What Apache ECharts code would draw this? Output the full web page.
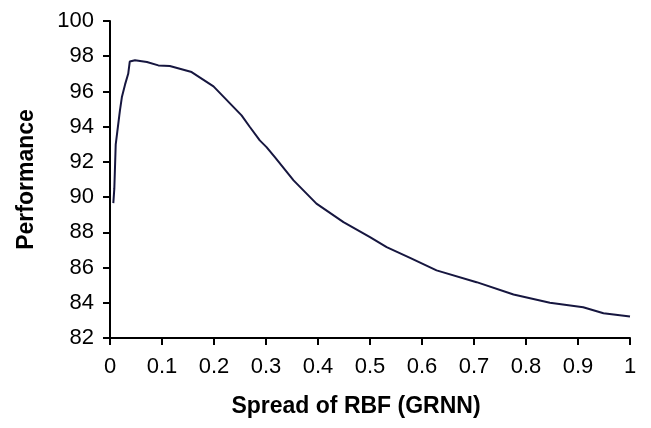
<!DOCTYPE html>
<html>
<head>
<meta charset="utf-8">
<script src="https://cdn.jsdelivr.net/npm/echarts@6/dist/echarts.min.js"></script>
<style>html,body{margin:0;padding:0;background:#fff;}#c{width:651px;height:428px;}</style>
</head>
<body>
<div id="c"></div>
<script>
const spread = [0.0064, 0.0083, 0.011, 0.014, 0.019, 0.023, 0.029, 0.035, 0.038, 0.048, 0.071, 0.093, 0.115, 0.157, 0.199, 0.253, 0.269, 0.288, 0.301, 0.317, 0.353, 0.397, 0.449, 0.5, 0.532, 0.577, 0.628, 0.705, 0.776, 0.846, 0.91, 0.949, 1.0];
const performance = [89.66, 90.48, 93.0, 93.7, 94.9, 95.7, 96.4, 97.0, 97.7, 97.77, 97.67, 97.48, 97.44, 97.1, 96.29, 94.64, 93.98, 93.22, 92.84, 92.27, 90.95, 89.63, 88.58, 87.73, 87.16, 86.55, 85.84, 85.17, 84.47, 84.0, 83.75, 83.41, 83.22];
const xTitle = 'Spread of RBF (GRNN)';
const yTitle = 'Performance';

const chart = echarts.init(document.getElementById('c'), null, {renderer: 'canvas'});
const font = 'Liberation Sans, Arial, sans-serif';
chart.setOption({
  animation: false,
  backgroundColor: '#fff',
  grid: {left: 110, right: 21, top: 21, bottom: 90, containLabel: false},
  xAxis: {
    type: 'value', min: 0, max: 1, interval: 0.1,
    name: xTitle, nameLocation: 'middle', nameGap: 57,
    nameTextStyle: {fontFamily: font, fontSize: 23, fontWeight: 'bold', color: '#000', padding: [0, 28, 0, 0]},
    axisLine: {show: true, lineStyle: {color: '#000', width: 2}},
    axisTick: {show: true, length: 7, lineStyle: {color: '#000', width: 2}},
    axisLabel: {fontFamily: font, fontSize: 22, color: '#000', margin: 18,
      formatter: v => (Math.round(v * 10) / 10).toString()},
    splitLine: {show: false}
  },
  yAxis: {
    type: 'value', min: 82, max: 100, interval: 2,
    name: yTitle, nameLocation: 'middle', nameGap: 72,
    nameTextStyle: {fontFamily: font, fontSize: 23, fontWeight: 'bold', color: '#000'},
    axisLine: {show: true, lineStyle: {color: '#000', width: 2}},
    axisTick: {show: true, length: 7, lineStyle: {color: '#000', width: 2}},
    axisLabel: {fontFamily: font, fontSize: 22, color: '#000', margin: 16},
    splitLine: {show: false}
  },
  series: [{
    type: 'line',
    data: spread.map((x, i) => [x, performance[i]]),
    showSymbol: false,
    smooth: false,
    lineStyle: {color: '#16163f', width: 2}
  }]
});
</script>
</body>
</html>
